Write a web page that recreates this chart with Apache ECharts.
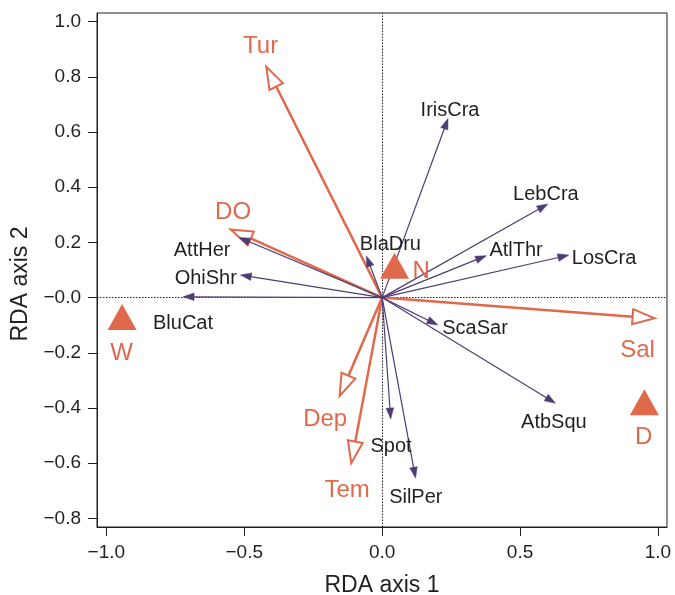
<!DOCTYPE html>
<html>
<head>
<meta charset="utf-8">
<script src="https://cdn.jsdelivr.net/npm/echarts@6/dist/echarts.min.js"></script>
<style>
  html, body { margin: 0; padding: 0; background: #fff; }
  #chart { width: 675px; height: 595px; }
</style>
</head>
<body>
<div id="chart"></div>
<script>
// species scores (arrow tips)
const speciesNames = ['IrisCra', 'LebCra', 'AtlThr', 'LosCra', 'BlaDru', 'AttHer', 'OhiShr', 'BluCat', 'ScaSar', 'AtbSqu', 'Spot', 'SilPer']
const speciesX = [0.239, 0.601, 0.378, 0.677, -0.057, -0.519, -0.514, -0.722, 0.202, 0.629, 0.031, 0.121]
const speciesY = [0.649, 0.339, 0.152, 0.154, 0.151, 0.218, 0.082, 0.003, -0.099, -0.383, -0.440, -0.654]

// environmental variables (arrow tips)
const envNames = ['Tur', 'DO', 'Sal', 'Dep', 'Tem']
const envX = [-0.420, -0.549, 0.988, -0.154, -0.112]
const envY = [0.836, 0.247, -0.075, -0.356, -0.600]

// site centroids
const siteNames = ['N', 'W', 'D']
const siteX = [0.045, -0.943, 0.951]
const siteY = [0.115, -0.070, -0.379]

const xTicks = [-1, -0.5, 0, 0.5, 1]
const yTicks = [-0.8, -0.6, -0.4, -0.2, 0, 0.2, 0.4, 0.6, 0.8, 1.0]

const ORANGE = '#E0684B'
const PURPLE = '#4F3C75'
const INK = '#231F20'
const FONT = '"Liberation Sans", Arial, Helvetica, sans-serif'

// label placement, pixel offset from the arrow tip
const speciesLabel = {
  IrisCra: [2, -8, 'center'],
  LebCra: [-2, -9.5, 'center'],
  AtlThr: [3, -5, 'left'],
  LosCra: [3, 3, 'left'],
  BlaDru: [24, -11.5, 'center'],
  AttHer: [-8.6, 13, 'right'],
  OhiShr: [-3.5, 3.7, 'right'],
  BluCat: [0, 27, 'center'],
  ScaSar: [4.4, 3.2, 'left'],
  AtbSqu: [-1.7, 19.5, 'center'],
  Spot: [0.3, 27, 'center'],
  SilPer: [0.3, 19.5, 'center'],
}
const envLabel = {
  Tur: [-5.7, -20.9],
  DO: [2.3, -17.5],
  Sal: [-17, 32.5],
  Dep: [-14.5, 23.2],
  Tem: [-4.2, 26.7],
}
const siteLabel = {
  N: [26.7, 5.8],
  W: [-0.6, 36.5],
  D: [-0.7, 35.5],
}

const fmt = (v, negZero) => {
  let s = v.toFixed(1)
  if (negZero && v === 0) s = '-0.0'
  return s.replace('-', '\u2212')
}

const arrowItem = (kind) => (params, api) => {
  const o = api.coord([0, 0])
  const t = api.coord([api.value(0), api.value(1)])
  const dx = t[0] - o[0]
  const dy = t[1] - o[1]
  const len = Math.sqrt(dx * dx + dy * dy)
  const ux = dx / len
  const uy = dy / len
  const nx = -uy
  const ny = ux
  const env = kind === 'env'
  const L = env ? 22 : 11
  const w = env ? 7.5 : 3.8
  const bx = t[0] - L * ux
  const by = t[1] - L * uy
  const name = env ? envNames[params.dataIndex] : speciesNames[params.dataIndex]
  const lab = env ? envLabel[name] : speciesLabel[name]
  return {
    type: 'group',
    children: [
      {
        type: 'line',
        shape: { x1: o[0], y1: o[1], x2: env ? bx : t[0] - 4 * ux, y2: env ? by : t[1] - 4 * uy },
        style: { stroke: env ? ORANGE : PURPLE, lineWidth: env ? 2.5 : 1.2 },
      },
      {
        type: 'polygon',
        shape: { points: [[t[0], t[1]], [bx + w * nx, by + w * ny], [bx - w * nx, by - w * ny]] },
        style: env
          ? { fill: '#fff', stroke: ORANGE, lineWidth: 2, lineJoin: 'miter' }
          : { fill: PURPLE, stroke: PURPLE, lineWidth: 0.5 },
      },
      {
        type: 'text',
        z2: 10,
        style: {
          text: name,
          x: t[0] + lab[0],
          y: t[1] + lab[1],
          fill: env ? ORANGE : INK,
          fontSize: env ? 24 : 20,
          fontFamily: FONT,
          align: env ? 'center' : lab[2],
          verticalAlign: 'middle',
        },
      },
    ],
  }
}

const chart = echarts.init(document.getElementById('chart'))

const option = {
  animation: false,
  backgroundColor: '#fff',
  grid: {
    left: 97, right: 8, top: 13, bottom: 68,
    outerBoundsMode: 'none',
    containLabel: false,
    show: true, borderColor: INK, borderWidth: 1, backgroundColor: 'transparent',
  },
  xAxis: {
    type: 'value',
    min: -1.034,
    max: 1.033,
    name: 'RDA axis 1',
    nameLocation: 'middle',
    nameGap: 47,
    nameTextStyle: { fontSize: 23, fontFamily: FONT, color: INK },
    splitLine: { show: false },
    axisLine: { show: true, onZero: false, lineStyle: { color: INK, width: 1 } },
    axisTick: { show: true, length: 9, lineStyle: { color: INK }, customValues: xTicks },
    axisLabel: {
      customValues: xTicks,
      formatter: (v) => fmt(v, false),
      fontSize: 19, fontFamily: FONT, color: INK, margin: 16,
    },
  },
  yAxis: {
    type: 'value',
    min: -0.831,
    max: 1.031,
    name: 'RDA axis 2',
    nameLocation: 'middle',
    nameGap: 60,
    nameTextStyle: { fontSize: 23, fontFamily: FONT, color: INK, padding: [0, 28, 0, 0] },
    splitLine: { show: false },
    axisLine: { show: true, onZero: false, lineStyle: { color: INK, width: 1 } },
    axisTick: { show: true, length: 9, lineStyle: { color: INK }, customValues: yTicks },
    axisLabel: {
      customValues: yTicks,
      formatter: (v) => fmt(v, true),
      fontSize: 19, fontFamily: FONT, color: INK, margin: 16,
      padding: [4, 0, 0, 0],
    },
  },
  series: [
    {
      type: 'custom',
      name: 'env',
      clip: false,
      renderItem: arrowItem('env'),
      data: envX.map((x, i) => [x, envY[i]]),
      z: 3,
    },
    {
      type: 'custom',
      name: 'species',
      clip: false,
      renderItem: arrowItem('species'),
      data: speciesX.map((x, i) => [x, speciesY[i]]),
      z: 4,
    },
    {
      type: 'scatter',
      name: 'sites',
      symbol: 'triangle',
      symbolSize: [29, 26],
      itemStyle: { color: ORANGE, opacity: 1 },
      z: 5,
      data: siteNames.map((n, i) => ({
        name: n,
        value: [siteX[i], siteY[i]],
        label: {
          show: true,
          position: 'inside',
          offset: siteLabel[n],
          formatter: '{b}',
          color: ORANGE,
          fontSize: 24,
          fontFamily: FONT,
        },
      })),
      markLine: {
        silent: true,
        symbol: 'none',
        label: { show: false },
        lineStyle: { color: INK, width: 1, type: [1.5, 1.5] },
        z: 1,
        data: [{ xAxis: 0 }, { yAxis: 0 }],
      },
    },
  ],
}

chart.setOption(option)
</script>
</body>
</html>
